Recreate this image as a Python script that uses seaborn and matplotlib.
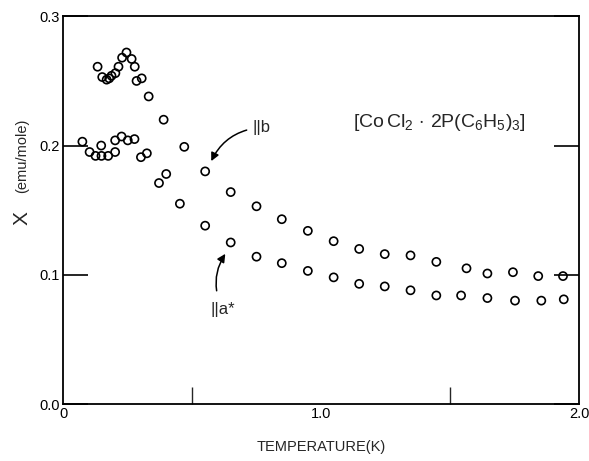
import numpy as np
import pandas as pd
import seaborn as sns
import matplotlib.pyplot as plt

# susceptibility data
temp_b = [0.134, 0.152, 0.169, 0.179, 0.188, 0.203, 0.215, 0.229, 0.246, 0.266,
          0.278, 0.285, 0.305, 0.332, 0.390, 0.470, 0.551, 0.650, 0.750, 0.848,
          0.949, 1.049, 1.148, 1.247, 1.347, 1.447, 1.564, 1.645, 1.744, 1.842, 1.938]
chi_b = [0.261, 0.253, 0.251, 0.252, 0.254, 0.256, 0.261, 0.268, 0.272, 0.267,
         0.261, 0.250, 0.252, 0.238, 0.220, 0.199, 0.180, 0.164, 0.153, 0.143,
         0.134, 0.126, 0.120, 0.116, 0.115, 0.110, 0.105, 0.101, 0.102, 0.099, 0.099]

temp_a = [0.075, 0.103, 0.126, 0.148, 0.149, 0.175, 0.202, 0.202, 0.227, 0.251,
          0.277, 0.302, 0.325, 0.372, 0.400, 0.453, 0.551, 0.650, 0.750, 0.848,
          0.949, 1.049, 1.148, 1.247, 1.347, 1.447, 1.543, 1.645, 1.752, 1.854, 1.941]
chi_a = [0.203, 0.195, 0.192, 0.200, 0.192, 0.192, 0.195, 0.204, 0.207, 0.204,
         0.205, 0.191, 0.194, 0.171, 0.178, 0.155, 0.138, 0.125, 0.114, 0.109,
         0.103, 0.098, 0.093, 0.091, 0.088, 0.084, 0.084, 0.082, 0.080, 0.080, 0.081]

df = pd.concat([
    pd.DataFrame({'T': temp_b, 'chi': chi_b, 'axis': 'b'}),
    pd.DataFrame({'T': temp_a, 'chi': chi_a, 'axis': 'a*'}),
])

sns.set_style("white")
plt.rcParams['font.family'] = ['Liberation Sans', 'DejaVu Sans']
plt.rcParams['mathtext.fontset'] = 'custom'
plt.rcParams['mathtext.rm'] = 'Liberation Sans'
plt.rcParams['mathtext.it'] = 'Liberation Sans'

fig = plt.figure(figsize=(5.89, 4.61), dpi=100)
ax = fig.add_axes([0.107, 0.1236, 0.876, 0.841])

sns.scatterplot(data=df, x='T', y='chi', ax=ax, marker='o', s=34,
                facecolors='none', edgecolor='black', linewidth=1.2, legend=False)

ax.set_xlim(0, 2.0)
ax.set_ylim(0, 0.3)
ax.set_xticks([0, 1.0, 2.0])
ax.set_xticklabels(['0', '1.0', '2.0'])
ax.set_xticks([0.5, 1.5], minor=True)
ax.set_yticks([0.0, 0.1, 0.2, 0.3])
ax.set_yticklabels(['0.0', '0.1', '0.2', '0.3'])
ax.tick_params(axis='both', which='major', direction='in', labelsize=10.5, length=18,
               width=1.2, colors='black', pad=2)
ax.tick_params(axis='x', which='minor', direction='in', length=12, width=1.0, bottom=True)
ax.tick_params(axis='y', right=True, left=True)
ax.tick_params(axis='x', top=False)
for sp in ax.spines.values():
    sp.set_color('black')
    sp.set_linewidth(1.3)

ax.set_xlabel("TEMPERATURE(K)", fontsize=10.5, labelpad=14)
ax.set_ylabel("")
ax.text(-0.08, 0.48, "X", rotation=90, fontsize=15, ha='center', va='center',
        transform=ax.transAxes)
ax.text(-0.08, 0.64, "(emu/mole)", rotation=90, fontsize=10.5, ha='center', va='center',
        transform=ax.transAxes)

ax.text(1.46, 0.218, r"$\left[\mathrm{Co\,Cl_2\,\cdot\,2P(C_6H_5)_3}\right]$",
        fontsize=14, ha='center', va='center')

ax.annotate("||b", xy=(0.57, 0.186), xytext=(0.735, 0.214), fontsize=12,
            ha='left', va='center',
            arrowprops=dict(arrowstyle='-|>', color='black', lw=1.1,
                            connectionstyle='arc3,rad=0.3', shrinkA=2, shrinkB=2))
ax.annotate("||a*", xy=(0.635, 0.118), xytext=(0.62, 0.073), fontsize=12,
            ha='center', va='center',
            arrowprops=dict(arrowstyle='-|>', color='black', lw=1.1,
                            connectionstyle='arc3,rad=-0.3', shrinkA=6, shrinkB=2))

fig.savefig("out.png", dpi=100)
